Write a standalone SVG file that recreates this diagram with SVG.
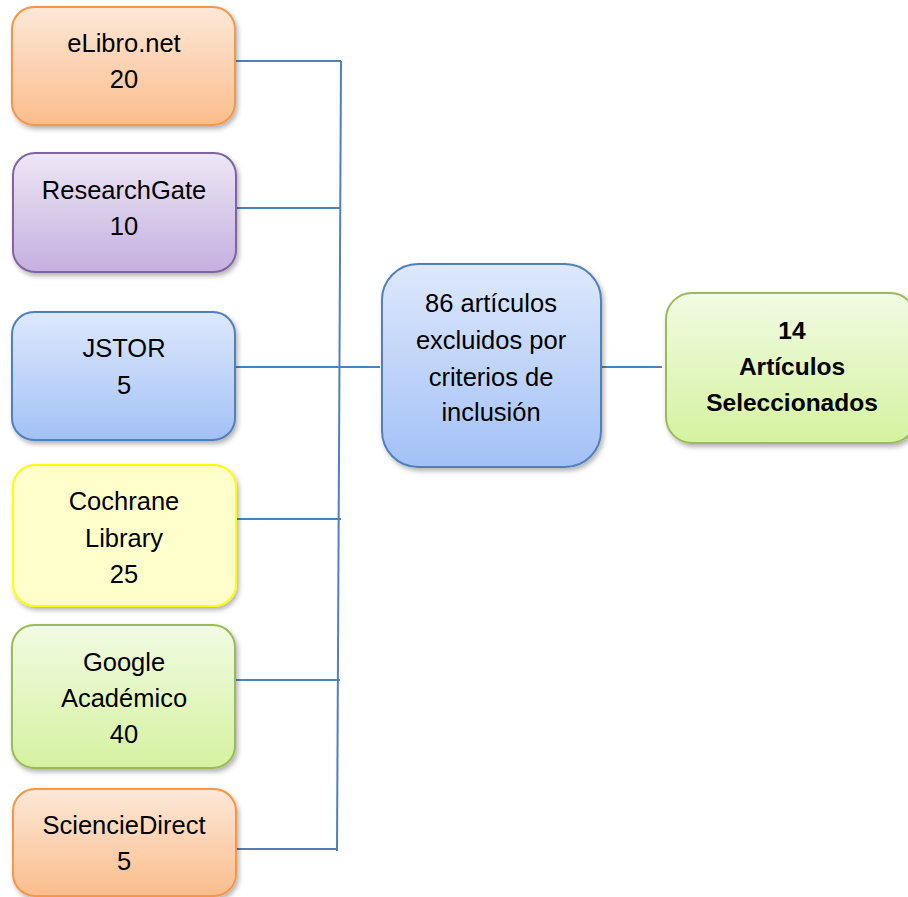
<svg xmlns="http://www.w3.org/2000/svg" width="908" height="897" viewBox="0 0 908 897">
<defs>
<linearGradient id="gO" x1="0" y1="0" x2="0" y2="1"><stop offset="0" stop-color="#fde8d8"/><stop offset="1" stop-color="#fbbd8c"/></linearGradient>
<linearGradient id="gP" x1="0" y1="0" x2="0" y2="1"><stop offset="0" stop-color="#ede7f5"/><stop offset="1" stop-color="#c5afe0"/></linearGradient>
<linearGradient id="gB" x1="0" y1="0" x2="0" y2="1"><stop offset="0" stop-color="#dde8fc"/><stop offset="1" stop-color="#a3c1f7"/></linearGradient>
<linearGradient id="gG" x1="0" y1="0" x2="0" y2="1"><stop offset="0" stop-color="#f1fbe2"/><stop offset="1" stop-color="#d5f2a0"/></linearGradient>
<filter id="sh" x="-10%" y="-10%" width="130%" height="130%"><feDropShadow dx="2" dy="3" stdDeviation="2.5" flood-color="#000" flood-opacity="0.3"/></filter>
</defs>
<style>
.box{stroke-width:2;filter:url(#sh)}
.o{fill:url(#gO);stroke:#f79646}
.p{fill:url(#gP);stroke:#8064a2}
.b{fill:url(#gB);stroke:#4f81bd}
.y{fill:#ffffcc;stroke:#ffff00}
.g{fill:url(#gG);stroke:#9bbb59}
text{font-family:"Liberation Sans",Arial,sans-serif;font-size:25.5px;fill:#000;text-anchor:middle}
.bold{font-weight:bold;font-size:24.5px}
.c{fill:none;stroke:#4f81bd;stroke-width:2}
</style>
<g id="connectors">
<path class="c" d="M341 61 L337 851"/>
<path class="c" d="M235 61 H341"/>
<path class="c" d="M236 208 H341"/>
<path class="c" d="M235 367 H380"/>
<path class="c" d="M236 519 H341"/>
<path class="c" d="M235 680 H340"/>
<path class="c" d="M236 849 H337"/>
<path class="c" d="M600 367 H662"/>
</g>
<g id="elibro"><rect class="box o" x="12" y="7" width="223" height="118" rx="22"/><text x="124" y="52">eLibro.net</text><text x="124" y="88">20</text></g>
<g id="researchgate"><rect class="box p" x="13" y="153" width="223" height="119" rx="22"/><text x="124" y="199">ResearchGate</text><text x="124" y="235">10</text></g>
<g id="jstor"><rect class="box b" x="12" y="312" width="223" height="128" rx="22"/><text x="124" y="357">JSTOR</text><text x="124" y="394">5</text></g>
<g id="cochrane"><rect class="box y" x="13" y="465" width="223" height="141" rx="22"/><text x="124" y="510">Cochrane</text><text x="124" y="547">Library</text><text x="124" y="583">25</text></g>
<g id="google"><rect class="box g" x="12" y="625" width="223" height="143" rx="22"/><text x="124" y="671">Google</text><text x="124" y="707">Académico</text><text x="124" y="743">40</text></g>
<g id="sciencedirect"><rect class="box o" x="13" y="789" width="223" height="107" rx="22"/><text x="124" y="834">SciencieDirect</text><text x="124" y="870">5</text></g>
<g id="excluidos"><rect class="box b" x="382" y="264" width="219" height="203" rx="36"/><text x="491" y="312">86 artículos</text><text x="491" y="349">excluidos por</text><text x="491" y="386">criterios de</text><text x="491" y="421">inclusión</text></g>
<g id="seleccionados"><rect class="box g" x="666" y="293" width="250" height="150" rx="26"/><text class="bold" x="792" y="339">14</text><text class="bold" x="792" y="375">Artículos</text><text class="bold" x="792" y="411">Seleccionados</text></g>
</svg>
